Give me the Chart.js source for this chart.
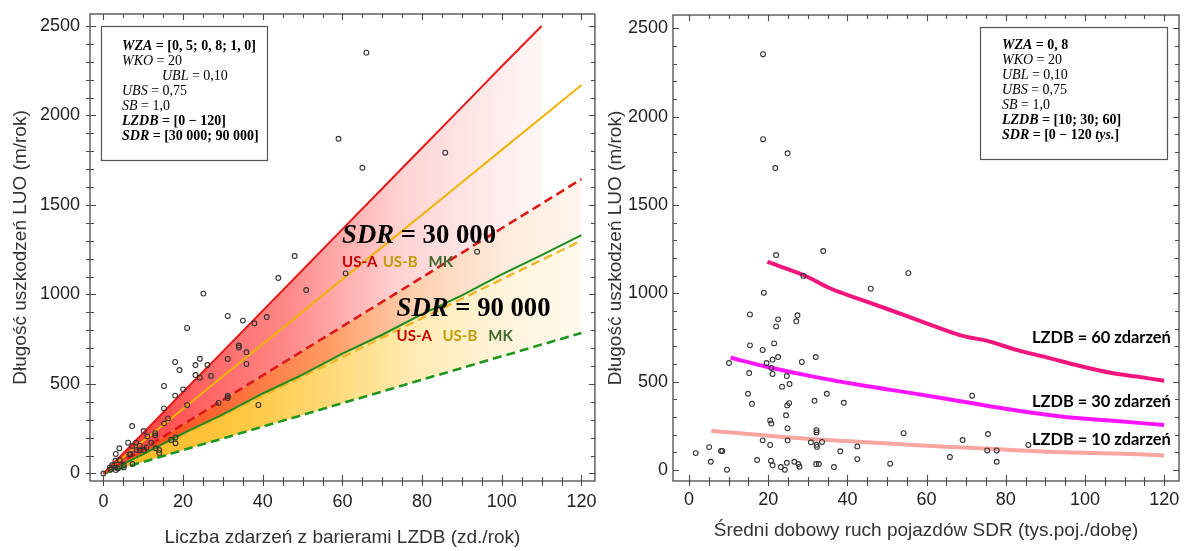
<!DOCTYPE html>
<html><head><meta charset="utf-8">
<script src="https://cdn.jsdelivr.net/npm/chart.js@4.4.1/dist/chart.umd.min.js"></script>
<style>
html,body{margin:0;padding:0;background:#fff;}
#wrap{position:relative;width:1189px;height:551px;overflow:hidden;background:#fff;}
#c1{position:absolute;left:0;top:0;width:600px;height:551px;}
#c2{position:absolute;left:600px;top:0;width:589px;height:551px;}
</style></head>
<body><div id="wrap"><canvas id="c1" width="600" height="551"></canvas><canvas id="c2" width="589" height="551"></canvas></div>
<script>
// ---------- DATA: left chart (LZDB) ----------
const LINE_X      = [0,10,20,30,40,50,60,70,80,90,100,110,120];
const US_A_30     = [0,227,455,682,910,1137,1365,1592,1820,2047,2275,2500];     // red solid (ends at x=110)
const US_B_30     = [0,181,362,543,723,904,1085,1266,1446,1627,1808,1989,2170]; // orange solid
const MK_30       = [0,137,274,411,548,685,822,959,1096,1233,1370,1507,1645];   // red dashed
const US_A_90     = [0,108,224,330,447,552,670,775,890,995,1112,1220,1332];     // green solid
const US_B_90     = [0,108,216,325,434,542,650,759,868,976,1085,1193,1301];     // orange dashed
const MK_90       = [0,65,131,196,262,327,393,458,524,589,655,720,785];         // green dashed

const PTS_LZDB = [48.0,43.9,50.9,25.1,31.2,35.0,41.0,37.9,21.0,34.0,34.0,35.9,31.2,35.9,24.2,23.1,26.1,18.0,19.1,23.1,24.2,27.0,15.2,20.0,18.0,31.2,31.2,28.9,21.0,38.9,15.2,16.2,15.2,7.2,10.1,13.0,13.0,11.0,6.2,8.2,12.0,7.2,9.1,9.1,10.2,10.8,13.1,14.0,14.0,17.0,18.1,18.1,4.0,3.1,6.5,6.8,8.3,4.1,3.0,2.2,1.6,2.9,5.1,5.1,7.3,0.0,3.6,3.1,1.8,66.0,59.0,65.0,85.8,93.8,60.8];
const PTS_LUO_L = [1215,1092,1025,1005,880,854,874,839,813,715,704,677,640,612,641,606,606,623,578,550,535,545,489,470,435,433,422,394,383,383,364,308,280,265,237,225,212,208,172,172,172,154,154,128,131,144,141,131,115,187,202,169,141,109,107,109,131,75,71,47,34,34,47,34,53,0,28,19,22,2351,1870,1708,1792,1239,1118];

// ---------- DATA: right chart (SDR) ----------
const LZDB60_X = [19.8,28.9,35.6,43.2,50.8,60.0,68.4,76.0,82.7,90.3,98.7,107.1,113.1,120];
const LZDB60_Y = [1178,1104,1029,966,906,830,764,727,680,638,589,548,529,506];
const LZDB30_X = [10.5,19.6,31.4,43.2,56.6,69.3,81.9,94.5,107.1,120];
const LZDB30_Y = [636,585,529,481,434,387,340,302,279,255];
const LZDB10_X = [5.6,23.0,39.8,56.6,73.5,90.3,107.1,120];
const LZDB10_Y = [223,189,164,142,123,104,94,83];

const PTS_SDR = [22.0,33.9,28.9,55.4,45.9,18.9,15.4,22.5,27.4,27.1,22.0,15.4,21.5,18.6,22.5,21.1,32.0,28.5,10.1,19.6,20.8,15.2,21.1,24.7,23.5,25.4,14.9,15.9,25.3,24.8,31.7,34.8,39.1,71.5,24.5,20.5,20.8,24.9,32.2,32.2,54.2,75.5,18.6,24.9,30.8,33.6,32.2,32.3,20.5,69.1,85.7,5.1,1.7,8.4,8.1,38.2,42.5,75.3,77.7,5.5,17.2,20.7,21.1,24.7,26.6,27.6,27.9,23.2,24.2,32.1,32.8,36.6,42.5,50.8,65.9,77.7,9.6,18.7,18.7,24.9,21.8];
const PTS_LUO_R = [1217,1240,1099,1115,1027,1004,881,853,876,842,813,706,717,680,640,625,640,612,606,606,578,549,544,532,472,487,432,375,379,366,392,432,381,421,310,281,264,236,226,213,209,204,168,168,157,159,143,131,142,170,142,130,96,108,108,106,134,111,111,47,57,53,27,41,47,34,19,17,2,34,34,17,62,36,74,47,2,2354,1873,1793,1710];

// ---------- Tick labels ----------
const X_TICK_LABELS = [0,20,40,60,80,100,120];
const Y_TICK_LABELS = [0,500,1000,1500,2000,2500];
const X_MINOR_STEP = 5, Y_MINOR_STEP = 100;

const X_MINOR = []; for (let v = 0; v <= 120; v += X_MINOR_STEP) X_MINOR.push(v);
const Y_MINOR = []; for (let v = 0; v <= 2500; v += Y_MINOR_STEP) Y_MINOR.push(v);

Chart.defaults.font.family = "'Liberation Sans', Arial, sans-serif";
Chart.defaults.color = '#222';
Chart.defaults.animation = false;

const zip = (xs, ys) => ys.map((y, i) => ({x: xs[i], y}));

function gradFill(stops) {
  return (c) => {
    const chart = c.chart; const xs = chart.scales && chart.scales.x;
    if (!chart.chartArea || !xs) return 'rgba(0,0,0,0)';
    const x0 = xs.getPixelForValue(0), x1 = xs.getPixelForValue(120);
    const g = chart.ctx.createLinearGradient(x0, 0, x1, 0);
    stops.forEach(([v, col]) => g.addColorStop(v / 120, col));
    return g;
  };
}
const RED_STOPS = [[0,'#ff3030'],[24,'#ff6262'],[47,'#ff8a8a'],[74,'#ffd2d2'],[105,'#fff3f3'],[120,'#fffafa']];
const ORANGE_STOPS = [[0,'#ff3c10'],[28,'#ff6630'],[56,'#ff9a62'],[78,'#fdd0b0'],[100,'#feeadb'],[120,'#fff6ee']];
const YELLOW_STOPS = [[0,'#ffb81c'],[36,'#ffc843'],[60,'#ffdc80'],[79,'#ffebb5'],[100,'#fff4da'],[120,'#fffaee']];

function drawRuns(ctx, x, y, runs, scale) {
  let cx = x;
  runs.forEach(r => {
    ctx.font = r.f.replace('{s}', (r.s * (scale || 1)).toFixed(2) + 'px');
    ctx.fillStyle = r.c || '#000';
    ctx.fillText(r.t, cx, y);
    cx += ctx.measureText(r.t).width;
  });
  return cx - x;
}
function runsWidth(ctx, runs) {
  let w = 0;
  runs.forEach(r => { ctx.font = r.f.replace('{s}', r.s + 'px'); w += ctx.measureText(r.t).width; });
  return w;
}
const SERIF = "'Liberation Serif', 'DejaVu Serif', serif";
const BI = "italic bold {s} " + SERIF, B = "bold {s} " + SERIF, I = "italic {s} " + SERIF, N = "{s} " + SERIF;

function drawFrame(chart, outB, outL) {
  const {ctx, chartArea: a, scales: {x, y}} = chart;
  ctx.save();
  ctx.strokeStyle = '#4a4a4a';
  ctx.lineWidth = 1.3;
  ctx.strokeRect(a.left, a.top, a.right - a.left, a.bottom - a.top);
  ctx.lineWidth = 1.1;
  ctx.beginPath();
  X_MINOR.forEach(v => {
    const p = Math.round(x.getPixelForValue(v)) + 0.5; const L = v % 20 === 0 ? 6 : 4;
    ctx.moveTo(p, a.bottom + outB); ctx.lineTo(p, a.bottom - L);
    ctx.moveTo(p, a.top); ctx.lineTo(p, a.top + L);
  });
  Y_MINOR.forEach(v => {
    const p = Math.round(y.getPixelForValue(v)) + 0.5; const L = v % 500 === 0 ? 6 : 4;
    ctx.moveTo(a.left - outL, p); ctx.lineTo(a.left + L, p);
    ctx.moveTo(a.right, p); ctx.lineTo(a.right - L, p);
  });
  ctx.stroke();
  ctx.restore();
}

function drawBox(ctx, bx, by, bw, bh, lines, tx, ty0, dy) {
  ctx.save();
  ctx.fillStyle = '#fff';
  ctx.fillRect(bx, by, bw, bh);
  ctx.strokeStyle = '#555'; ctx.lineWidth = 1.2;
  ctx.strokeRect(bx + 0.5, by + 0.5, bw, bh);
  ctx.textBaseline = 'middle'; ctx.textAlign = 'left';
  lines.forEach((ln, i) => drawRuns(ctx, tx + (ln.indent || 0), ty0 + i * dy, ln.runs));
  ctx.restore();
}

function scaleCfg(min, max, ticksArr, labels, axisTitle, fitSize, isX, pad, titlePad) {
  return {
    type: 'linear', min, max, offset: false,
    afterBuildTicks: s => { s.ticks = ticksArr.map(v => ({value: v})); },
    afterFit: s => {
      if (isX) s.height = fitSize; else s.width = fitSize;
      s.paddingLeft = 0; s.paddingRight = 0; s.paddingTop = 0; s.paddingBottom = 0;
    },
    grid: {display: true, drawOnChartArea: false, drawTicks: false, color: 'rgba(0,0,0,0)'},
    border: {display: false},
    ticks: {padding: pad, autoSkip: false, maxRotation: 0, font: {size: 18}, color: '#222',
            callback: v => labels.includes(v) ? String(v) : ''},
    title: {display: true, text: axisTitle, color: '#333', font: {size: 19}, padding: titlePad}
  };
}

// ---------- LEFT CHART ----------
const leftPlugin = {
  id: 'leftDeco',
  afterDraw(chart) {
    const {ctx, scales: {x, y}} = chart;
    drawFrame(chart, 5, 4);
    ctx.save();
    ctx.textBaseline = 'middle'; ctx.textAlign = 'left';
    const h1 = [{t: 'SDR', f: BI, s: 26}, {t: ' = 30 000', f: B, s: 26}];
    const h2 = [{t: 'SDR', f: BI, s: 26}, {t: ' = 90 000', f: B, s: 26}];
    const k1 = 154 / runsWidth(ctx, h1);
    drawRuns(ctx, x.getPixelForValue(59.9), y.getPixelForValue(1327), h1, k1);
    drawRuns(ctx, x.getPixelForValue(73.6), y.getPixelForValue(919), h2, k1);
    ctx.font = "bold 15px Lato, 'Liberation Sans', sans-serif";
    const row = (xs, yv) => {
      const yy = y.getPixelForValue(yv);
      ctx.fillStyle = '#c80000'; ctx.fillText('US-A', x.getPixelForValue(xs[0]), yy);
      ctx.fillStyle = '#c39a00'; ctx.fillText('US-B', x.getPixelForValue(xs[1]), yy);
      ctx.fillStyle = '#3f6a2c'; ctx.fillText('MK', x.getPixelForValue(xs[2]), yy);
    };
    row([59.9, 70.1, 81.6], 1182);
    row([73.6, 85.1, 96.6], 768);
    ctx.restore();
    drawBox(ctx, 101, 26, 166, 134, [
      {runs: [{t: 'WZA', f: BI, s: 14}, {t: ' = [0, 5; 0, 8; 1, 0]', f: B, s: 14}]},
      {runs: [{t: 'WKO', f: I, s: 14}, {t: ' = 20', f: N, s: 14}]},
      {indent: 40, runs: [{t: 'UBL', f: I, s: 14}, {t: ' = 0,10', f: N, s: 14}]},
      {runs: [{t: 'UBS', f: I, s: 14}, {t: ' = 0,75', f: N, s: 14}]},
      {runs: [{t: 'SB', f: I, s: 14}, {t: ' = 1,0', f: N, s: 14}]},
      {runs: [{t: 'LZDB', f: BI, s: 14}, {t: ' = [0 − 120]', f: B, s: 14}]},
      {runs: [{t: 'SDR', f: BI, s: 14}, {t: ' = [30 000; 90 000]', f: B, s: 14}]}
    ], 122, 46, 15);
  }
};

new Chart(document.getElementById('c1'), {
  type: 'line',
  data: {datasets: [
    {data: zip(LINE_X, US_A_30), borderColor: '#e81818', borderWidth: 2, pointRadius: 0, fill: {target: 2}, backgroundColor: gradFill(RED_STOPS), order: 1},
    {data: zip(LINE_X, US_B_30), borderColor: '#f0b400', borderWidth: 2, pointRadius: 0, fill: false, order: 1},
    {data: zip(LINE_X, MK_30), borderColor: '#dc1a1a', borderWidth: 2.6, borderDash: [9, 5], pointRadius: 0, fill: {target: 3}, backgroundColor: gradFill(ORANGE_STOPS), order: 1},
    {data: zip(LINE_X, US_A_90), borderColor: '#1e8c1e', borderWidth: 2, pointRadius: 0, fill: {target: 5}, backgroundColor: gradFill(YELLOW_STOPS), order: 1},
    {data: zip(LINE_X, US_B_90), borderColor: '#f0b52a', borderWidth: 2.4, borderDash: [9, 5], pointRadius: 0, fill: false, order: 1},
    {data: zip(LINE_X, MK_90), borderColor: '#1f961f', borderWidth: 2.6, borderDash: [9, 5], pointRadius: 0, fill: false, order: 1},
    {data: zip(PTS_LZDB, PTS_LUO_L), showLine: false, pointStyle: 'circle', pointRadius: 2.4, pointBorderWidth: 1.1, pointBorderColor: '#333', pointBackgroundColor: 'rgba(0,0,0,0)', borderColor: '#333', fill: false, order: 0}
  ]},
  options: {
    responsive: false, animation: false,
    layout: {padding: {left: 0, top: 14, right: 3, bottom: 0}},
    plugins: {legend: {display: false}, tooltip: {enabled: false}, filler: {drawTime: 'beforeDatasetsDraw', propagate: false}},
    scales: {
      x: scaleCfg(-3.375, 123.375, X_MINOR, X_TICK_LABELS, 'Liczba zdarzeń z barierami LZDB (zd./rok)', 70, true, 10, {top: 0, bottom: 2}),
      y: scaleCfg(-42, 2567, Y_MINOR, Y_TICK_LABELS, 'Długość uszkodzeń LUO (m/rok)', 90, false, 10, {top: 9, bottom: 0})
    }
  },
  plugins: [leftPlugin]
});

// ---------- RIGHT CHART ----------
const rightPlugin = {
  id: 'rightDeco',
  afterDraw(chart) {
    const {ctx, scales: {x, y}} = chart;
    drawFrame(chart, 5, 0);
    ctx.save();
    ctx.textBaseline = 'middle'; ctx.textAlign = 'left';
    const labels = [['LZDB = 60 zdarzeń', 747], ['LZDB = 30 zdarzeń', 385], ['LZDB = 10 zdarzeń', 170]];
    labels.forEach(([t, yv]) => {
      const runs = [{t, f: "bold {s} Lato, 'Liberation Sans', sans-serif", s: 16, c: '#000'}];
      const k = 139 / runsWidth(ctx, runs);
      drawRuns(ctx, x.getPixelForValue(121.7) - 139, y.getPixelForValue(yv), runs, k);
    });
    ctx.restore();
    drawBox(ctx, 380, 27, 187, 132, [
      {runs: [{t: 'WZA', f: BI, s: 14}, {t: ' = 0, 8', f: B, s: 14}]},
      {runs: [{t: 'WKO', f: I, s: 14}, {t: ' = 20', f: N, s: 14}]},
      {runs: [{t: 'UBL', f: I, s: 14}, {t: ' = 0,10', f: N, s: 14}]},
      {runs: [{t: 'UBS', f: I, s: 14}, {t: ' = 0,75', f: N, s: 14}]},
      {runs: [{t: 'SB', f: I, s: 14}, {t: ' = 1,0', f: N, s: 14}]},
      {runs: [{t: 'LZDB', f: BI, s: 14}, {t: ' = [10; 30; 60]', f: B, s: 14}]},
      {runs: [{t: 'SDR', f: BI, s: 14}, {t: ' = [0 − 120 ', f: B, s: 14}, {t: 'tys.', f: BI, s: 14}, {t: ']', f: B, s: 14}]}
    ], 402, 45, 15);
  }
};

new Chart(document.getElementById('c2'), {
  type: 'line',
  data: {datasets: [
    {data: zip(LZDB60_X, LZDB60_Y), borderColor: '#f2167c', borderWidth: 4, pointRadius: 0, tension: 0.35, fill: false, order: 1},
    {data: zip(LZDB30_X, LZDB30_Y), borderColor: '#ff14ff', borderWidth: 4, pointRadius: 0, tension: 0.35, fill: false, order: 1},
    {data: zip(LZDB10_X, LZDB10_Y), borderColor: '#f8a6a2', borderWidth: 4, pointRadius: 0, tension: 0.35, fill: false, order: 1},
    {data: zip(PTS_SDR, PTS_LUO_R), showLine: false, pointStyle: 'circle', pointRadius: 2.4, pointBorderWidth: 1.1, pointBorderColor: '#333', pointBackgroundColor: 'rgba(0,0,0,0)', borderColor: '#333', fill: false, order: 0}
  ]},
  options: {
    responsive: false, animation: false,
    layout: {padding: {left: 0, top: 15, right: 10, bottom: 0}},
    plugins: {legend: {display: false}, tooltip: {enabled: false}},
    scales: {
      x: scaleCfg(-4.04, 123.74, X_MINOR, X_TICK_LABELS, 'Średni dobowy ruch pojazdów SDR (tys.poj./dobę)', 70, true, 8, {top: 0, bottom: 9}),
      y: scaleCfg(-62, 2576, Y_MINOR, Y_TICK_LABELS, 'Długość uszkodzeń LUO (m/rok)', 73, false, 5, {top: 4, bottom: 0})
    }
  },
  plugins: [rightPlugin]
});
</script>
</body></html>
